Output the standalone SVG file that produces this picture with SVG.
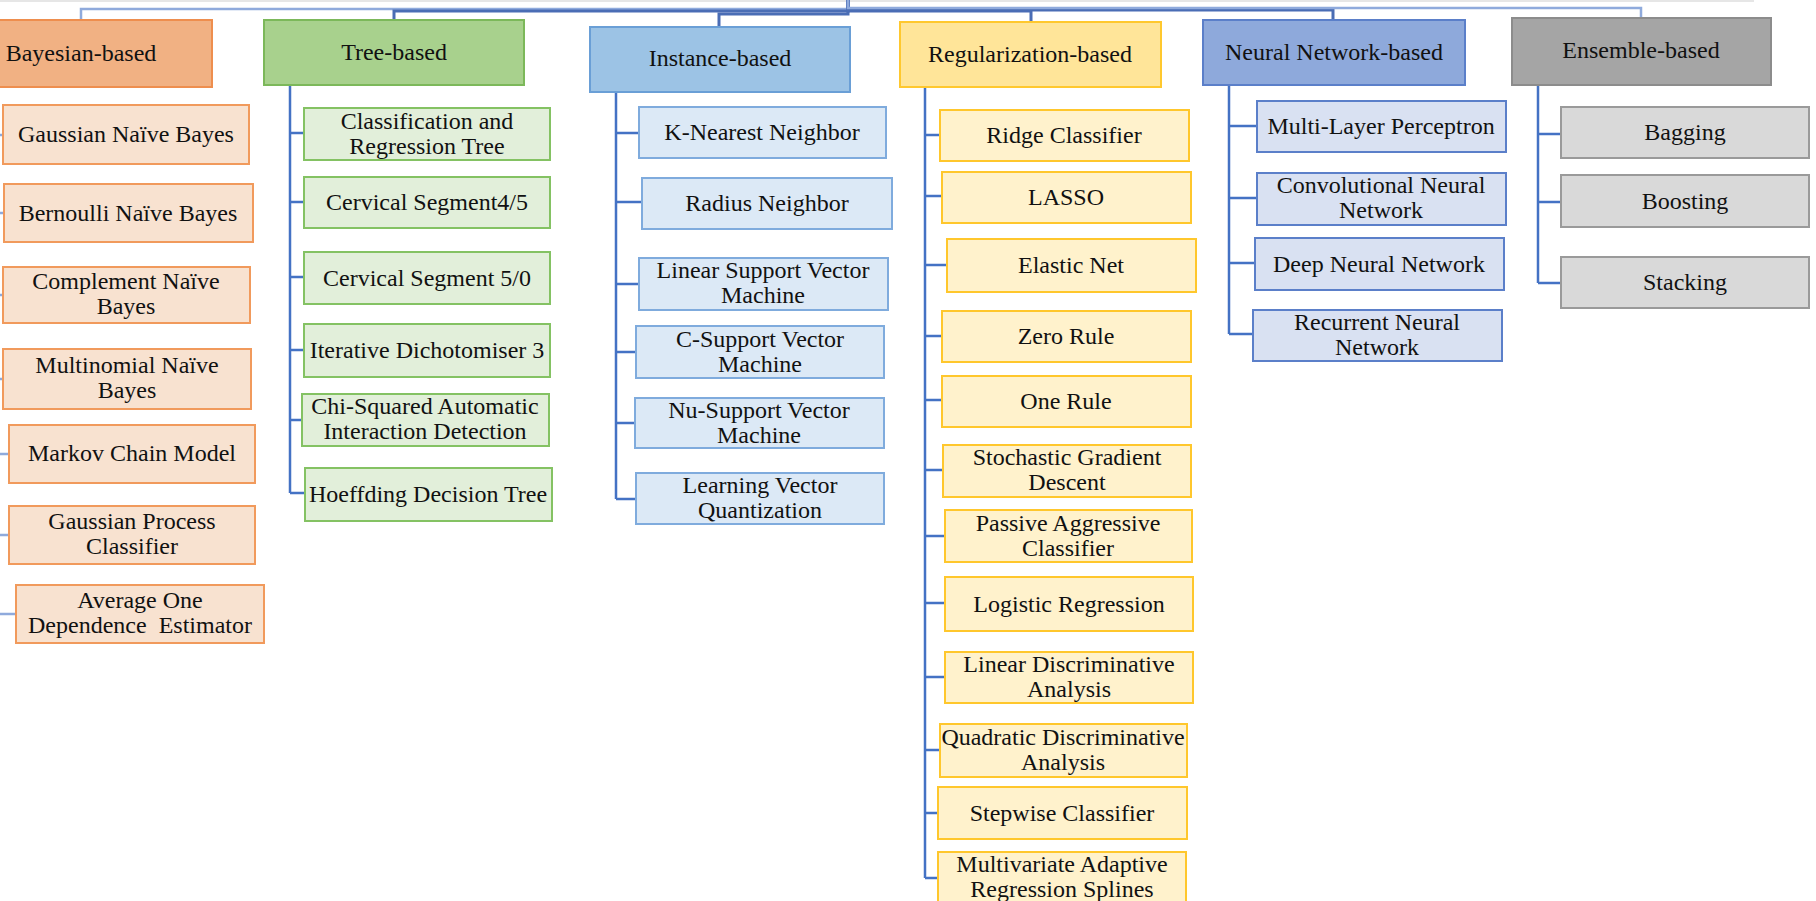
<svg xmlns="http://www.w3.org/2000/svg" width="1816" height="901" viewBox="0 0 1816 901">
<style>
  text { font-family: "Liberation Serif", "Times New Roman", serif; font-size: 24px; fill: #111; text-anchor: middle; }
  rect { stroke-width: 2; }
  .conn { fill: none; stroke: #4472C4; stroke-width: 2.5; }
  .conn-top { fill: none; stroke: #4A6DB5; stroke-width: 3; }
  .conn-lt { fill: none; stroke: #8FAADC; stroke-width: 2.5; }
  .h-bay { fill: #F1B183; stroke: #EE8E4E; }
  .c-bay { fill: #F8E2D0; stroke: #F19A5C; }
  .h-tree { fill: #A8D18D; stroke: #7CB85A; }
  .c-tree { fill: #E2EFDA; stroke: #84C263; }
  .h-inst { fill: #9CC3E5; stroke: #6A9FD6; }
  .c-inst { fill: #DCE9F6; stroke: #7FABDD; }
  .h-reg { fill: #FFE599; stroke: #FFC82E; }
  .c-reg { fill: #FFF2CC; stroke: #FFC72C; }
  .h-nn { fill: #8EA9DB; stroke: #5B7FC9; }
  .c-nn { fill: #D9E1F2; stroke: #5B7FC9; }
  .h-ens { fill: #A5A5A5; stroke: #8C8C8C; }
  .c-ens { fill: #D9D9D9; stroke: #9A9A9A; }
</style>

<rect width="1816" height="901" fill="#FFFFFF" stroke="none"/>
<!-- lower edge of the root box above the frame -->
<line x1="0" y1="1" x2="1754" y2="1" stroke="#E6E6E6" stroke-width="2"/>

<g id="connectors">
  <!-- root to category headers -->
  <path class="conn-lt" d="M848,0 V9 H81 V20"/>
  <path class="conn-top" d="M848,0 V11 H394 V20"/>
  <path class="conn-top" d="M848,0 V14 H719 V27"/>
  <path class="conn-top" d="M848,0 V11 H1031 V22"/>
  <path class="conn-top" d="M848,0 V10 H1333 V20"/>
  <path class="conn-lt" d="M848,0 V8 H1641 V18"/>

  <!-- Bayesian children (spine lies left of the frame) -->
  <path class="conn-lt" d="M0,135 H3 M0,213 H4 M0,295 H3 M0,379 H3 M0,454 H9 M0,535 H9 M0,614 H16"/>

  <!-- Tree-based -->
  <path class="conn" d="M290,85 V493 M290,133 H304 M290,202 H304 M290,277 H304 M290,350 H304 M290,420 H302 M290,493 H305"/>

  <!-- Instance-based -->
  <path class="conn" d="M616,92 V499 M616,133 H639 M616,202 H642 M616,284 H639 M616,352 H636 M616,423 H635 M616,499 H636"/>

  <!-- Regularization-based -->
  <path class="conn" d="M925,87 V878 M925,135 H940 M925,196 H942 M925,265 H947 M925,336 H942 M925,400 H942 M925,470 H943 M925,536 H945 M925,603 H945 M925,677 H945 M925,750 H940 M925,813 H938 M925,878 H938"/>

  <!-- Neural Network-based -->
  <path class="conn" d="M1229,85 V334 M1229,126 H1257 M1229,198 H1257 M1229,263 H1255 M1229,334 H1253"/>

  <!-- Ensemble-based -->
  <path class="conn" d="M1538,85 V283 M1538,134 H1561 M1538,202 H1561 M1538,283 H1561"/>
</g>

<!-- Bayesian-based -->
<g id="bayesian">
  <rect class="h-bay" x="-50" y="20" width="262" height="67"/>
  <text x="81" y="61">Bayesian-based</text>
</g>
<g id="gaussian-nb">
  <rect class="c-bay" x="3" y="105" width="246" height="59"/>
  <text x="126" y="142">Gaussian Naïve Bayes</text>
</g>
<g id="bernoulli-nb">
  <rect class="c-bay" x="4" y="184" width="249" height="58"/>
  <text x="128" y="221">Bernoulli Naïve Bayes</text>
</g>
<g id="complement-nb">
  <rect class="c-bay" x="3" y="267" width="247" height="56"/>
  <text x="126" y="289">Complement Naïve</text>
  <text x="126" y="314">Bayes</text>
</g>
<g id="multinomial-nb">
  <rect class="c-bay" x="3" y="349" width="248" height="60"/>
  <text x="127" y="373">Multinomial Naïve</text>
  <text x="127" y="398">Bayes</text>
</g>
<g id="markov">
  <rect class="c-bay" x="9" y="425" width="246" height="58"/>
  <text x="132" y="461">Markov Chain Model</text>
</g>
<g id="gaussian-process">
  <rect class="c-bay" x="9" y="506" width="246" height="58"/>
  <text x="132" y="529">Gaussian Process</text>
  <text x="132" y="554">Classifier</text>
</g>
<g id="aode">
  <rect class="c-bay" x="16" y="585" width="248" height="58"/>
  <text x="140" y="608">Average One</text>
  <text x="140" y="633" style="white-space:pre">Dependence  Estimator</text>
</g>

<!-- Tree-based -->
<g id="tree">
  <rect class="h-tree" x="264" y="20" width="260" height="65"/>
  <text x="394" y="60">Tree-based</text>
</g>
<g id="cart">
  <rect class="c-tree" x="304" y="108" width="246" height="52"/>
  <text x="427" y="129">Classification and</text>
  <text x="427" y="154">Regression Tree</text>
</g>
<g id="cs45">
  <rect class="c-tree" x="304" y="177" width="246" height="51"/>
  <text x="427" y="210">Cervical Segment4/5</text>
</g>
<g id="cs50">
  <rect class="c-tree" x="304" y="252" width="246" height="52"/>
  <text x="427" y="286">Cervical Segment 5/0</text>
</g>
<g id="id3">
  <rect class="c-tree" x="304" y="324" width="246" height="53"/>
  <text x="427" y="358">Iterative Dichotomiser 3</text>
</g>
<g id="chaid">
  <rect class="c-tree" x="302" y="394" width="247" height="52"/>
  <text x="425" y="414">Chi-Squared Automatic</text>
  <text x="425" y="439">Interaction Detection</text>
</g>
<g id="hoeffding">
  <rect class="c-tree" x="305" y="468" width="247" height="53"/>
  <text x="428" y="502">Hoeffding Decision Tree</text>
</g>

<!-- Instance-based -->
<g id="instance">
  <rect class="h-inst" x="590" y="27" width="260" height="65"/>
  <text x="720" y="66">Instance-based</text>
</g>
<g id="knn">
  <rect class="c-inst" x="639" y="107" width="247" height="51"/>
  <text x="762" y="140">K-Nearest Neighbor</text>
</g>
<g id="radius">
  <rect class="c-inst" x="642" y="178" width="250" height="51"/>
  <text x="767" y="211">Radius Neighbor</text>
</g>
<g id="linear-svm">
  <rect class="c-inst" x="639" y="258" width="249" height="52"/>
  <text x="763" y="278">Linear Support Vector</text>
  <text x="763" y="303">Machine</text>
</g>
<g id="c-svm">
  <rect class="c-inst" x="636" y="326" width="248" height="52"/>
  <text x="760" y="347">C-Support Vector</text>
  <text x="760" y="372">Machine</text>
</g>
<g id="nu-svm">
  <rect class="c-inst" x="635" y="398" width="249" height="50"/>
  <text x="759" y="418">Nu-Support Vector</text>
  <text x="759" y="443">Machine</text>
</g>
<g id="lvq">
  <rect class="c-inst" x="636" y="473" width="248" height="51"/>
  <text x="760" y="493">Learning Vector</text>
  <text x="760" y="518">Quantization</text>
</g>

<!-- Regularization-based -->
<g id="regularization">
  <rect class="h-reg" x="900" y="22" width="261" height="65"/>
  <text x="1030" y="62">Regularization-based</text>
</g>
<g id="ridge">
  <rect class="c-reg" x="940" y="110" width="249" height="51"/>
  <text x="1064" y="143">Ridge Classifier</text>
</g>
<g id="lasso">
  <rect class="c-reg" x="942" y="172" width="249" height="51"/>
  <text x="1066" y="205">LASSO</text>
</g>
<g id="elastic-net">
  <rect class="c-reg" x="947" y="239" width="249" height="53"/>
  <text x="1071" y="273">Elastic Net</text>
</g>
<g id="zero-rule">
  <rect class="c-reg" x="942" y="311" width="249" height="51"/>
  <text x="1066" y="344">Zero Rule</text>
</g>
<g id="one-rule">
  <rect class="c-reg" x="942" y="376" width="249" height="51"/>
  <text x="1066" y="409">One Rule</text>
</g>
<g id="sgd">
  <rect class="c-reg" x="943" y="445" width="248" height="52"/>
  <text x="1067" y="465">Stochastic Gradient</text>
  <text x="1067" y="490">Descent</text>
</g>
<g id="passive-aggressive">
  <rect class="c-reg" x="945" y="510" width="247" height="52"/>
  <text x="1068" y="531">Passive Aggressive</text>
  <text x="1068" y="556">Classifier</text>
</g>
<g id="logistic">
  <rect class="c-reg" x="945" y="577" width="248" height="54"/>
  <text x="1069" y="612">Logistic Regression</text>
</g>
<g id="lda">
  <rect class="c-reg" x="945" y="652" width="248" height="51"/>
  <text x="1069" y="672">Linear Discriminative</text>
  <text x="1069" y="697">Analysis</text>
</g>
<g id="qda">
  <rect class="c-reg" x="940" y="724" width="247" height="53"/>
  <text x="1063" y="745">Quadratic Discriminative</text>
  <text x="1063" y="770">Analysis</text>
</g>
<g id="stepwise">
  <rect class="c-reg" x="938" y="787" width="249" height="52"/>
  <text x="1062" y="821">Stepwise Classifier</text>
</g>
<g id="mars">
  <rect class="c-reg" x="938" y="852" width="248" height="52"/>
  <text x="1062" y="872">Multivariate Adaptive</text>
  <text x="1062" y="897">Regression Splines</text>
</g>

<!-- Neural Network-based -->
<g id="neural-network">
  <rect class="h-nn" x="1203" y="20" width="262" height="65"/>
  <text x="1334" y="60">Neural Network-based</text>
</g>
<g id="mlp">
  <rect class="c-nn" x="1257" y="101" width="249" height="51"/>
  <text x="1381" y="134">Multi-Layer Perceptron</text>
</g>
<g id="cnn">
  <rect class="c-nn" x="1257" y="173" width="249" height="52"/>
  <text x="1381" y="193">Convolutional Neural</text>
  <text x="1381" y="218">Network</text>
</g>
<g id="dnn">
  <rect class="c-nn" x="1255" y="238" width="249" height="52"/>
  <text x="1379" y="272">Deep Neural Network</text>
</g>
<g id="rnn">
  <rect class="c-nn" x="1253" y="310" width="249" height="51"/>
  <text x="1377" y="330">Recurrent Neural</text>
  <text x="1377" y="355">Network</text>
</g>

<!-- Ensemble-based -->
<g id="ensemble">
  <rect class="h-ens" x="1512" y="18" width="259" height="67"/>
  <text x="1641" y="58">Ensemble-based</text>
</g>
<g id="bagging">
  <rect class="c-ens" x="1561" y="107" width="248" height="51"/>
  <text x="1685" y="140">Bagging</text>
</g>
<g id="boosting">
  <rect class="c-ens" x="1561" y="175" width="248" height="52"/>
  <text x="1685" y="209">Boosting</text>
</g>
<g id="stacking">
  <rect class="c-ens" x="1561" y="257" width="248" height="51"/>
  <text x="1685" y="290">Stacking</text>
</g>
</svg>
